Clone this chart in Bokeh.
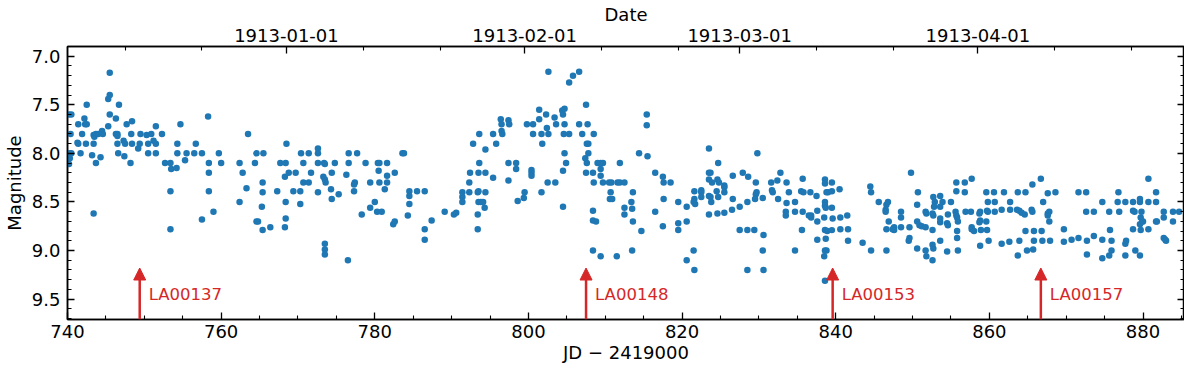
import datetime as dt
from bokeh.plotting import figure
from bokeh.models import (Range1d, LinearAxis, FixedTicker, ColumnDataSource,
                          Arrow, NormalHead, CustomJSTickFormatter, PrintfTickFormatter)
from bokeh.embed import file_html
from bokeh.resources import INLINE
from bokeh.core.properties import value

# ---------------- data (JD - 2419000, magnitude) ----------------
jd_s1 = [740.2, 740.5, 740.4, 740.2, 740.5, 740.3, 740.2, 741.4, 741.4, 741.3,
         741.7, 742.2, 742.3, 742.5, 741.9, 742.4, 742.5, 743.2, 743.4, 743.5,
         743.4, 743.7, 743.4, 743.7, 744.0, 744.3, 744.5, 744.6, 745.3, 745.3,
         745.5, 745.5, 745.5, 746.3, 746.3, 746.5, 746.5, 746.5, 746.6, 746.7,
         747.3, 747.5, 747.4, 747.7, 748.3, 748.4, 748.2, 748.4, 749.2, 749.4,
         749.5, 750.3, 750.5, 750.5, 750.9, 751.2, 751.5, 751.5, 751.5, 752.3,
         752.7, 753.4, 753.5, 753.4, 753.4, 754.3, 754.3, 754.2, 754.7, 755.3,
         755.5, 756.5, 756.7, 757.5, 757.5, 758.3, 758.4, 758.4, 758.4, 759.0,
         759.7, 760.0, 762.4, 762.8, 763.3, 762.4, 763.5]
mag_s1 = [7.60, 7.60, 7.80, 8.00, 8.00, 8.05, 8.11, 7.70, 7.90, 7.89,
          8.00, 7.64, 7.70, 7.70, 7.80, 7.90, 7.50, 8.02, 7.81, 7.83,
          7.90, 8.10, 8.62, 7.80, 7.80, 8.04, 7.77, 7.80, 7.72, 7.44,
          7.40, 7.17, 7.60, 7.64, 7.80, 7.80, 7.82, 7.90, 8.00, 7.50,
          7.87, 7.90, 8.03, 7.70, 7.80, 7.67, 8.10, 7.90, 7.95, 7.90,
          7.80, 7.81, 7.90, 8.00, 7.80, 7.87, 7.90, 7.72, 8.00, 7.80,
          8.10, 8.10, 8.16, 8.39, 8.78, 7.90, 8.00, 8.15, 7.70, 8.07,
          8.00, 8.00, 7.90, 8.00, 8.68, 7.62, 8.10, 8.20, 8.39, 8.60,
          8.00, 8.10, 8.10, 8.20, 8.36, 8.50, 7.80]

jd_s2 = [764.6, 765.5, 764.4, 765.4, 765.4, 765.3, 764.6, 764.8, 765.4, 766.4,
         767.3, 767.7, 768.4, 768.5, 768.3, 768.8, 768.4, 768.4, 768.3, 769.4,
         769.7, 770.4, 770.7, 770.7, 771.4, 770.3, 770.3, 771.4, 771.7, 772.6,
         772.6, 772.6, 772.6, 773.3, 773.5, 773.6, 773.4, 773.5, 774.4, 774.3,
         774.4, 774.8, 775.3, 773.5, 773.5, 773.5, 776.3, 776.6, 776.6, 776.5,
         777.4, 777.3, 777.3, 777.7, 778.3, 778.8, 779.4, 779.4, 780.0, 780.4,
         780.6, 780.5, 780.6, 780.3, 780.9, 781.6, 781.6, 781.6, 781.3, 782.6,
         783.6, 783.8, 782.4, 782.6, 784.5, 784.5, 784.5, 784.3, 785.5, 786.5,
         786.5, 786.5, 787.4]
mag_s2 = [8.00, 8.00, 8.10, 8.30, 8.40, 8.55, 8.70, 8.70, 8.79, 8.76,
          8.39, 8.10, 8.10, 7.90, 8.24, 8.20, 8.50, 8.67, 8.76, 8.39,
          8.20, 8.00, 8.10, 8.30, 8.30, 8.39, 8.52, 8.00, 8.20, 7.95,
          8.00, 8.10, 8.40, 8.24, 8.27, 8.30, 8.10, 8.11, 8.20, 8.37,
          8.47, 8.10, 8.42, 8.93, 8.99, 9.04, 8.22, 8.00, 8.10, 9.10,
          8.30, 8.32, 8.39, 8.00, 8.63, 8.10, 8.30, 8.56, 8.50, 8.10,
          8.10, 8.18, 8.30, 8.60, 8.60, 8.10, 8.23, 8.30, 8.37, 8.20,
          8.00, 8.00, 8.73, 8.70, 8.39, 8.44, 8.52, 8.64, 8.39, 8.39,
          8.78, 8.89, 8.69]

jd_s3 = [789.1, 790.3, 790.6, 791.4, 791.4, 791.4, 792.3, 792.3, 792.4, 792.8,
         793.4, 793.5, 793.6, 793.5, 793.5, 793.8, 794.1, 793.4, 793.4, 793.6,
         794.4, 794.4, 794.4, 794.3, 795.4, 795.4, 795.8, 796.4, 796.5, 796.5,
         796.6, 797.4, 797.5, 797.4, 798.4, 798.4, 797.4, 798.6, 799.4, 799.5,
         799.8, 800.6, 800.6, 800.4, 800.4, 800.4, 801.4, 801.4, 801.7, 801.8,
         801.7, 802.3, 802.4, 802.6, 802.5, 803.5, 802.6, 803.4, 803.6, 804.4,
         804.5, 804.7, 804.7, 804.6, 805.3, 804.7, 804.9, 804.5, 804.5, 805.3,
         805.8, 806.6, 806.6, 807.0, 807.5, 807.7, 807.6, 807.8, 807.8, 807.4,
         807.6, 807.5, 808.4, 808.5, 808.5, 809.0, 809.4, 809.7, 809.4, 809.4,
         809.7, 810.5, 810.8, 811.6, 810.7, 810.6, 810.9, 808.4, 808.4, 808.8,
         808.4, 809.4, 811.5]
mag_s3 = [8.60, 8.63, 8.61, 8.40, 8.45, 8.50, 8.40, 8.30, 8.20, 7.90,
          8.40, 8.39, 8.10, 8.20, 8.50, 8.50, 8.50, 8.63, 8.78, 7.80,
          8.20, 7.96, 8.40, 8.56, 7.80, 8.25, 7.90, 7.65, 7.70, 7.77,
          7.80, 7.66, 7.70, 8.10, 8.10, 8.16, 8.28, 8.49, 8.46, 8.40,
          7.70, 7.70, 7.80, 8.17, 8.20, 8.23, 7.55, 7.65, 7.80, 7.90,
          8.40, 7.60, 7.74, 7.80, 8.30, 8.30, 7.16, 7.63, 7.70, 7.56,
          7.60, 7.54, 7.70, 7.80, 7.80, 8.00, 8.10, 8.18, 8.55, 7.27,
          7.20, 7.16, 7.70, 7.80, 7.50, 7.70, 7.90, 7.90, 8.00, 8.05,
          8.10, 8.20, 8.20, 7.80, 8.30, 8.10, 8.10, 8.10, 8.16, 8.23,
          8.30, 8.30, 8.30, 8.30, 8.40, 8.47, 8.47, 8.59, 8.69, 8.70,
          9.00, 9.06, 9.06]

jd_s4 = [811.9, 811.9, 812.5, 812.5, 812.5, 813.4, 813.5, 813.6, 813.6, 813.5,
         814.4, 814.7, 815.4, 815.4, 815.5, 816.5, 816.5, 817.5, 817.6, 817.6,
         817.5, 818.5, 819.5, 819.5, 819.5, 820.6, 820.6, 820.6, 821.6, 821.6,
         821.5, 821.7, 821.5, 821.6, 822.5, 822.5, 822.5, 823.5, 823.5, 823.7,
         823.5, 823.9, 823.5, 823.7, 823.8, 823.5, 824.6, 824.8, 824.7, 824.5,
         824.7, 824.6, 825.5, 825.5, 825.5, 825.5, 826.6, 826.6, 826.5, 827.5,
         827.5, 827.9, 828.6, 828.5, 828.5, 828.5, 829.8, 829.6, 829.6, 829.7,
         829.5, 829.4, 830.5, 830.6, 830.5, 830.6, 831.6, 831.7, 831.8, 832.4,
         832.5, 832.8, 833.6, 833.9, 833.6, 833.5, 833.5, 834.7, 834.7, 834.7,
         835.7, 835.5, 835.8, 835.7, 835.6, 836.5]
mag_s4 = [8.10, 8.30, 8.30, 8.56, 8.63, 8.50, 8.57, 8.40, 8.70, 9.00,
          8.00, 8.80, 7.60, 7.71, 8.03, 8.20, 8.60, 8.24, 8.30, 8.47,
          8.75, 8.30, 8.50, 8.72, 8.79, 8.55, 8.70, 9.10, 8.39, 8.47,
          8.50, 8.52, 9.00, 9.20, 8.38, 8.40, 8.45, 7.95, 8.20, 8.20,
          8.27, 8.30, 8.44, 8.45, 8.50, 8.63, 8.27, 8.30, 8.10, 8.39,
          8.45, 8.62, 8.33, 8.35, 8.40, 8.61, 8.23, 8.47, 8.58, 8.55,
          8.79, 8.20, 8.24, 8.50, 8.79, 9.20, 8.00, 8.30, 8.42, 8.40,
          8.47, 8.79, 8.46, 8.84, 9.00, 9.20, 8.30, 8.38, 8.40, 8.28,
          8.47, 8.20, 8.30, 8.40, 8.51, 8.60, 8.64, 8.50, 8.60, 9.00,
          8.26, 8.39, 8.40, 8.60, 8.79, 8.64]

jd_s5 = [836.7, 836.8, 836.8, 837.5, 837.6, 837.6, 837.6, 838.6, 838.6, 838.8,
         839.0, 839.5, 838.6, 838.6, 838.7, 839.5, 839.5, 838.5, 838.6, 838.9,
         839.5, 838.7, 838.8, 838.6, 838.5, 838.6, 839.6, 840.5, 840.6, 840.6,
         841.5, 841.6, 841.6, 843.5, 844.5, 844.6, 844.6, 845.6, 846.5, 846.5,
         846.6, 846.8, 846.9, 847.6, 847.6, 847.4, 846.6, 846.6, 848.5, 848.5,
         848.5, 849.6, 849.6, 849.5, 849.8, 850.6, 850.7, 850.6, 850.9, 851.2,
         851.7, 850.6, 851.7, 851.8, 851.7, 851.8, 852.6, 852.6, 852.6, 852.7,
         852.7, 853.6, 852.9, 853.9, 852.8, 852.7, 852.6, 853.6, 853.6, 853.6,
         853.6, 854.5, 854.6, 854.6, 854.5, 855.0, 855.7, 855.7, 856.8, 856.8,
         857.7, 855.6, 855.7, 855.8, 855.9, 855.8, 855.8, 855.9, 856.9, 857.6,
         857.7, 857.7, 858.0, 858.8, 858.7, 858.8, 858.7, 858.8, 858.9, 859.6,
         859.8, 859.8, 859.7, 859.6, 859.7, 859.9]
mag_s5 = [8.40, 8.64, 8.66, 8.44, 8.59, 8.70, 8.89, 8.27, 8.31, 8.40,
          8.40, 8.39, 8.50, 8.54, 8.56, 8.30, 8.56, 8.66, 8.79, 8.80,
          8.79, 8.88, 9.00, 9.00, 9.06, 9.31, 8.67, 8.37, 8.66, 8.78,
          8.64, 8.78, 8.90, 8.92, 8.34, 8.40, 9.00, 8.50, 8.58, 8.60,
          8.53, 8.50, 8.70, 8.76, 8.79, 8.78, 8.78, 9.00, 8.60, 8.66,
          8.76, 8.76, 8.87, 8.90, 8.20, 8.53, 8.40, 8.70, 8.74, 8.75,
          8.76, 8.98, 8.60, 8.62, 9.00, 9.06, 9.10, 8.79, 8.94, 8.98,
          8.45, 8.44, 8.50, 8.50, 8.55, 8.64, 8.62, 8.55, 8.67, 8.71,
          8.90, 8.72, 8.74, 8.63, 9.01, 8.50, 8.30, 8.39, 8.30, 8.40,
          8.26, 8.60, 8.64, 8.66, 8.70, 8.80, 8.87, 9.00, 8.60, 8.60,
          8.76, 8.78, 8.80, 8.60, 8.62, 8.69, 8.71, 8.95, 8.79, 8.40,
          8.50, 8.60, 8.59, 8.70, 8.79, 8.90]

jd_s6 = [860.6, 860.7, 860.7, 861.6, 861.6, 861.9, 862.7, 862.7, 862.6,
         863.7, 864.7, 863.6, 863.9, 864.2, 864.6, 863.7, 863.9, 864.7, 864.9,
         865.6, 865.5, 865.6, 865.7, 865.8, 865.8, 866.7, 867.0, 866.8, 866.9,
         867.6, 867.8, 867.6, 867.6, 867.8, 868.6, 867.9, 869.7, 869.7, 870.7,
         871.6, 871.6, 872.6, 872.6, 872.7, 872.7, 873.6, 873.6, 874.7, 874.7,
         874.7, 875.6, 875.7, 875.9, 875.9, 875.6, 876.7, 876.8, 876.9, 877.7,
         877.7, 877.8, 877.7, 878.7, 878.7, 878.9, 878.7, 879.0, 879.6, 879.6,
         879.8, 879.7, 879.9, 879.6, 879.7, 879.6, 880.0, 880.7, 880.7, 880.7,
         881.7, 881.7, 881.7, 881.8, 882.7, 882.7, 882.7, 882.9, 883.0, 883.9,
         883.9, 884.7]
mag_s6 = [8.40, 8.50, 8.60, 8.58, 8.93, 8.40, 8.50, 8.58, 8.91,
          8.40, 8.40, 8.58, 8.59, 8.61, 8.63, 9.05, 8.90, 8.80, 9.00,
          8.32, 8.58, 8.60, 8.99, 8.80, 8.90, 8.26, 8.50, 8.80, 8.90,
          8.41, 8.60, 8.62, 8.64, 8.70, 8.40, 8.90, 8.78, 8.91, 8.89,
          8.40, 8.87, 8.40, 8.60, 8.90, 9.04, 8.60, 8.85, 8.50, 8.89,
          9.08, 8.60, 8.79, 8.90, 9.00, 9.05, 8.50, 8.40, 8.60, 8.50,
          8.93, 8.90, 9.05, 8.50, 8.59, 8.60, 8.78, 9.00, 8.47, 8.50,
          8.60, 8.66, 8.70, 8.73, 8.79, 9.05, 8.70, 8.26, 8.50, 8.78,
          8.40, 8.50, 8.70, 8.70, 8.60, 8.66, 8.87, 8.89, 8.90, 8.60,
          8.70, 8.60]

# plates (arrows)
plate_names = ["LA00137", "LA00148", "LA00153", "LA00157"]
plate_jd = [749.4, 807.5, 839.6, 866.7]
arrow_base_mag = 9.71
arrow_tip_mag = 9.18
label_mag = 9.45

# axes / ticks
x_lim = (740.0, 885.4)
y_lim = (9.71, 6.90)
x_major = [740, 760, 780, 800, 820, 840, 860, 880]
x_minor = [745, 750, 755, 765, 770, 775, 785, 790, 795, 805, 810, 815,
           825, 830, 835, 845, 850, 855, 865, 870, 875, 885]
y_major = [7.0, 7.5, 8.0, 8.5, 9.0, 9.5]
y_minor = [6.9, 7.1, 7.2, 7.3, 7.4, 7.6, 7.7, 7.8, 7.9, 8.1, 8.2, 8.3, 8.4,
           8.6, 8.7, 8.8, 8.9, 9.1, 9.2, 9.3, 9.4, 9.6, 9.7]
date_major = ["1913-01-01", "1913-02-01", "1913-03-01", "1913-04-01"]
date_minor = ["1912-12-11", "1912-12-21", "1913-01-11", "1913-01-21",
              "1913-02-11", "1913-02-21", "1913-03-11", "1913-03-21",
              "1913-04-11", "1913-04-21"]
JD_REF_DATE = dt.date(1913, 1, 1)
JD_REF_VALUE = 768.5   # JD 2419768.5 = 1913-01-01 00:00 UT


def date_to_x(s):
    return (dt.date.fromisoformat(s) - JD_REF_DATE).days + JD_REF_VALUE


# ---------------- figure ----------------
BLUE = "#1f77b4"
RED = "#d62728"
FONT = "DejaVu Sans"
TICK_FS = "18px"

jd_all, mag_all = [], []
for a, b in [(jd_s1, mag_s1), (jd_s2, mag_s2), (jd_s3, mag_s3),
             (jd_s4, mag_s4), (jd_s5, mag_s5), (jd_s6, mag_s6)]:
    n = min(len(a), len(b))
    jd_all += a[:n]
    mag_all += b[:n]

p = figure(width=1184, height=365, output_backend="svg", toolbar_location=None,
           x_range=Range1d(*x_lim), y_range=Range1d(*y_lim),
           min_border_left=0, min_border_right=0, min_border_top=0,
           min_border_bottom=0)
p.background_fill_color = "white"
p.border_fill_color = "white"
p.outline_line_color = "black"
p.outline_line_width = 1.5
p.xgrid.visible = False
p.ygrid.visible = False


def style_axis(ax):
    ax.axis_line_color = "black"
    ax.axis_line_width = 1.5
    ax.major_tick_line_color = "black"
    ax.minor_tick_line_color = "black"
    ax.major_tick_line_width = 1.3
    ax.minor_tick_line_width = 1.1
    ax.major_tick_in = 7
    ax.major_tick_out = 0
    ax.minor_tick_in = 4
    ax.minor_tick_out = 0
    ax.major_label_text_font = FONT
    ax.major_label_text_font_size = TICK_FS
    ax.major_label_text_color = "black"
    ax.axis_label_text_font = FONT
    ax.axis_label_text_font_size = TICK_FS
    ax.axis_label_text_font_style = "normal"
    ax.axis_label_text_color = "black"


# bottom axis
xb = p.xaxis[0]
xb.ticker = FixedTicker(ticks=x_major, minor_ticks=x_minor)
xb.axis_label = "JD \u2212 2419000"
style_axis(xb)
xb.major_label_standoff = 5
xb.axis_label_standoff = 1

# left axis
yl = p.yaxis[0]
yl.ticker = FixedTicker(ticks=y_major, minor_ticks=y_minor)
yl.formatter = PrintfTickFormatter(format="%.1f")
yl.axis_label = "Magnitude"
style_axis(yl)
yl.major_label_standoff = 7
yl.axis_label_standoff = 4

# right axis (ticks only)
yr = LinearAxis(ticker=FixedTicker(ticks=y_major, minor_ticks=y_minor),
                formatter=CustomJSTickFormatter(code="return ''"))
style_axis(yr)
yr.major_label_standoff = 0
yr.major_label_text_font_size = "0px"
p.add_layout(yr, "right")

# top axis (calendar dates)
top_major = [date_to_x(d) for d in date_major]
top_minor = [date_to_x(d) for d in date_minor]
xt = LinearAxis(ticker=FixedTicker(ticks=top_major, minor_ticks=top_minor),
                axis_label="Date")
xt.major_label_overrides = {t: lab for t, lab in zip(top_major, date_major)}
style_axis(xt)
xt.major_label_standoff = 5
xt.axis_label_standoff = 1
p.add_layout(xt, "above")

# data points
p.scatter(jd_all, mag_all, size=6.5, fill_color=BLUE, line_color=None)

# plate arrows and labels
psrc = ColumnDataSource(dict(
    x=plate_jd,
    y0=[arrow_base_mag] * len(plate_jd),
    y1=[arrow_tip_mag] * len(plate_jd),
    ylab=[label_mag] * len(plate_jd),
    name=plate_names,
))
p.add_layout(Arrow(end=NormalHead(size=12, fill_color=RED, line_color=RED, line_width=1),
                   x_start="x", y_start="y0", x_end="x", y_end="y1",
                   line_color=RED, line_width=2.5, source=psrc))
p.text(x="x", y="ylab", text="name", source=psrc, x_offset=9,
       text_baseline="middle", text_align="left", text_color=RED,
       text_font=value(FONT), text_font_size="16.5px")

open("out.html", "w").write(file_html(p, INLINE))
